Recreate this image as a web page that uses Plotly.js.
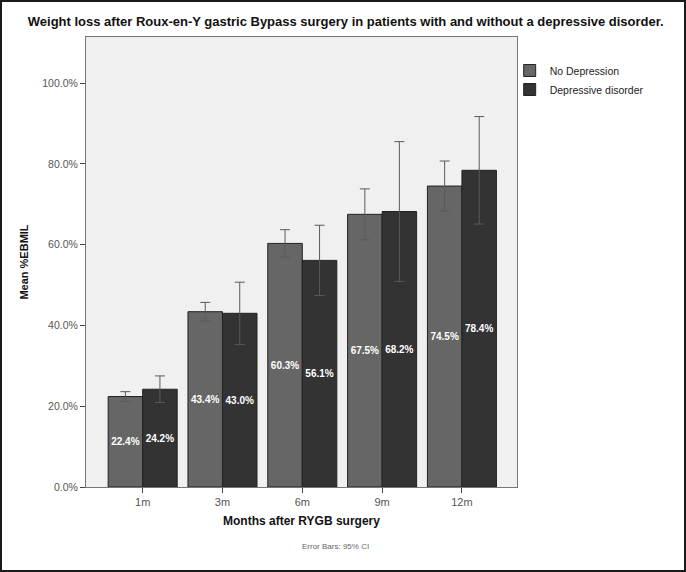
<!DOCTYPE html>
<html>
<head>
<meta charset="utf-8">
<script src="https://cdn.plot.ly/plotly-3.0.1.min.js"></script>
<style>
  html, body { margin: 0; padding: 0; background: #ffffff; }
  #chart { width: 686px; height: 572px; }
  #frame { position: absolute; left: 0; top: 0; width: 686px; height: 572px;
           box-sizing: border-box; border: 2px solid #1a1a1a; pointer-events: none; }
</style>
</head>
<body>
<div id="chart"></div>
<div id="frame"></div>
<script>
// months after surgery
const months = ['1m', '3m', '6m', '9m', '12m'];

// mean %EBMIL per group
const noDepression = [22.4, 43.4, 60.3, 67.5, 74.5];
const depressive = [24.2, 43.0, 56.1, 68.2, 78.4];

// half width of the 95% CI, read from the whiskers
const noDepressionCI = [1.2, 2.3, 3.4, 6.3, 6.2];
const depressiveCI = [3.3, 7.7, 8.7, 17.3, 13.3];

const yTicks = [0, 20, 40, 60, 80, 100];

const font = '"Liberation Sans", Arial, sans-serif';

function barTrace(name, values, ci, color) {
  return {
    type: 'bar',
    name: name,
    x: months,
    y: values,
    marker: { color: color, line: { color: '#222222', width: 1 } },
    text: values.map(v => v.toFixed(1) + '%'),
    textposition: 'inside',
    insidetextanchor: 'middle',
    textangle: 0,
    constraintext: 'none',
    textfont: { color: '#ffffff', size: 10, family: font, weight: 'bold' },
    error_y: {
      type: 'data',
      array: ci,
      visible: true,
      color: '#5a5a5a',
      thickness: 1,
      width: 5
    },
    hoverinfo: 'x+y+name'
  };
}

const traces = [
  barTrace('No Depression', noDepression, noDepressionCI, '#666666'),
  barTrace('Depressive disorder', depressive, depressiveCI, '#333333')
];

const layout = {
  width: 686,
  height: 572,
  margin: { l: 86, r: 169, t: 37, b: 85 },
  paper_bgcolor: '#ffffff',
  plot_bgcolor: '#f0f0f0',
  font: { family: font, color: '#333333' },
  barmode: 'group',
  bargap: 0.135,
  bargroupgap: 0,
  title: {
    text: 'Weight loss after Roux-en-Y gastric Bypass surgery in patients with and without a depressive disorder.',
    font: { size: 13, family: font, color: '#111111', weight: 'bold' },
    xref: 'container', yref: 'container',
    x: 0.504, y: 1 - 21 / 572, xanchor: 'center', yanchor: 'middle'
  },
  xaxis: {
    type: 'category',
    range: [-0.71, 4.69],
    showgrid: false,
    zeroline: false,
    showline: true, mirror: true, linecolor: '#777777', linewidth: 1,
    ticks: 'outside', ticklen: 5, tickcolor: '#444444',
    tickfont: { size: 11, color: '#555555' },
    title: {
      text: 'Months after RYGB surgery',
      font: { size: 12, color: '#111111', weight: 'bold' },
      standoff: 9
    }
  },
  yaxis: {
    range: [0, 111.4],
    tickvals: yTicks,
    ticktext: yTicks.map(v => v.toFixed(1) + '%'),
    showgrid: false,
    zeroline: false,
    showline: true, mirror: true, linecolor: '#777777', linewidth: 1,
    ticks: 'outside', ticklen: 5, tickcolor: '#444444',
    tickfont: { size: 10.5, color: '#555555' },
    title: {
      text: 'Mean %EBMIL',
      font: { size: 11, color: '#111111', weight: 'bold' },
      standoff: 11
    }
  },
  legend: {
    x: 0.983, xanchor: 'left',
    y: 1 - (56 - 37) / 450, yanchor: 'top',
    font: { size: 10.5, color: '#222222' },
    bgcolor: 'rgba(0,0,0,0)',
    itemwidth: 30,
    tracegroupgap: 0
  },
  annotations: [{
    text: 'Error Bars: 95% CI',
    xref: 'paper', yref: 'paper',
    x: (335 - 86) / 431, y: 1 - (546 - 37) / 450,
    xanchor: 'center', yanchor: 'middle',
    showarrow: false,
    font: { size: 8, color: '#666666' }
  }]
};

Plotly.newPlot('chart', traces, layout, { displayModeBar: false, staticPlot: true });
</script>
</body>
</html>
